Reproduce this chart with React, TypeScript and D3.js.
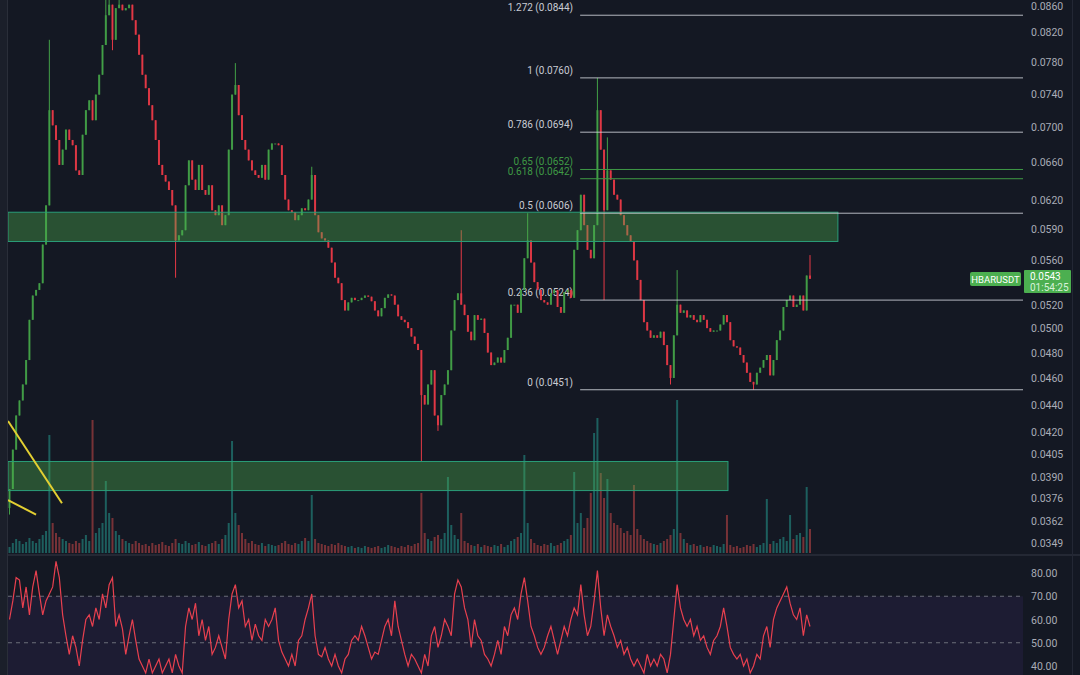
import React from 'react';
import * as d3 from 'd3';

// ---- data ----
const firstOpen = 0.037;
const closes = [
  0.0382, 0.0408, 0.0432, 0.0443, 0.0455, 0.0474, 0.0507, 0.0528, 0.0533, 0.0539,
  0.0575, 0.0614, 0.0720, 0.0702, 0.0685, 0.0657, 0.0674, 0.0697, 0.0685, 0.0679,
  0.0651, 0.0646, 0.0691, 0.0720, 0.0732, 0.0708, 0.0739, 0.0764, 0.0803, 0.0844,
  0.0859, 0.0810, 0.0854, 0.0859, 0.0851, 0.0854, 0.0859, 0.0837, 0.0817, 0.0790,
  0.0764, 0.0747, 0.0726, 0.0708, 0.0685, 0.0657, 0.0646, 0.0639, 0.0630, 0.0614,
  0.0579, 0.0584, 0.0589, 0.0635, 0.0662, 0.0641, 0.0630, 0.0657, 0.0630, 0.0625,
  0.0635, 0.0609, 0.0604, 0.0614, 0.0594, 0.0604, 0.0674, 0.0739, 0.0751, 0.0714,
  0.0685, 0.0674, 0.0662, 0.0651, 0.0646, 0.0643, 0.0657, 0.0641, 0.0674, 0.0681,
  0.0681, 0.0679, 0.0646, 0.0620, 0.0609, 0.0607, 0.0599, 0.0604, 0.0611, 0.0609,
  0.0620, 0.0646, 0.0604, 0.0587, 0.0581, 0.0579, 0.0572, 0.0558, 0.0544, 0.0539,
  0.0524, 0.0515, 0.0522, 0.0526, 0.0524, 0.0524, 0.0526, 0.0528, 0.0527, 0.0523,
  0.0515, 0.0510, 0.0517, 0.0526, 0.0529, 0.0528, 0.0520, 0.0510, 0.0507, 0.0505,
  0.0500, 0.0493, 0.0487, 0.0482, 0.0447, 0.0440, 0.0455, 0.0466, 0.0432, 0.0425,
  0.0447, 0.0455, 0.0466, 0.0498, 0.0524, 0.0530, 0.0520, 0.0511, 0.0497, 0.0490,
  0.0511, 0.0507, 0.0508, 0.0496, 0.0480, 0.0470, 0.0472, 0.0476, 0.0472, 0.0482,
  0.0492, 0.0520, 0.0520, 0.0513, 0.0533, 0.0562, 0.0579, 0.0558, 0.0540, 0.0533,
  0.0524, 0.0522, 0.0520, 0.0530, 0.0533, 0.0518, 0.0513, 0.0531, 0.0533, 0.0526,
  0.0570, 0.0589, 0.0625, 0.0594, 0.0570, 0.0562, 0.0594, 0.0720, 0.0674, 0.0609,
  0.0651, 0.0641, 0.0625, 0.0620, 0.0604, 0.0594, 0.0584, 0.0578, 0.0560, 0.0542,
  0.0524, 0.0505, 0.0498, 0.0492, 0.0494, 0.0492, 0.0497, 0.0486, 0.0470, 0.0460,
  0.0494, 0.0520, 0.0513, 0.0515, 0.0509, 0.0511, 0.0507, 0.0505, 0.0511, 0.0507,
  0.0500, 0.0497, 0.0498, 0.0498, 0.0503, 0.0511, 0.0505, 0.0490, 0.0485, 0.0484,
  0.0478, 0.0472, 0.0464, 0.0457, 0.0455, 0.0464, 0.0468, 0.0474, 0.0478, 0.0462,
  0.0474, 0.0490, 0.0498, 0.0518, 0.0524, 0.0528, 0.0518, 0.0520, 0.0528, 0.0515,
  0.0546, 0.0543,
];
const wickHighs: [number, number][] = [
  [12, 0.081], [29, 0.0875], [30, 0.0875], [33, 0.0872], [68, 0.0779], [91, 0.0655],
  [136, 0.0589], [156, 0.0606], [177, 0.076], [180, 0.0688], [201, 0.0551], [241, 0.0565],
];
const wickLows: [number, number][] = [
  [0, 0.0366], [31, 0.0796], [50, 0.0544], [124, 0.04], [129, 0.0421], [179, 0.0524],
  [199, 0.0455], [224, 0.0451],
];
const volumes = [
  6, 10, 14, 12, 9, 11, 15, 12, 10, 14,
  18, 22, 118, 30, 20, 16, 14, 12, 10, 9,
  12, 10, 14, 18, 12, 133, 20, 25, 30, 72,
  40, 35, 22, 18, 14, 12, 10, 9, 12, 10,
  8, 9, 7, 10, 8, 9, 11, 8, 7, 10,
  14, 10, 9, 12, 10, 8, 9, 11, 8, 7,
  9, 10, 12, 9, 14, 18, 30, 112, 40, 28,
  20, 14, 10, 12, 9, 8, 10, 7, 9, 8,
  7, 8, 10, 12, 9, 8, 10, 9, 12, 15,
  12, 58, 14, 10, 9, 8, 7, 9, 8, 10,
  8, 7, 6, 7, 5, 6, 5, 7, 6, 5,
  6, 7, 5, 6, 8, 7, 6, 5, 7, 6,
  8, 7, 9, 10, 60, 20, 14, 12, 16, 18,
  14, 20, 76, 28, 18, 14, 40, 12, 10, 8,
  7, 9, 6, 8, 7, 6, 8, 7, 9, 6,
  8, 12, 14, 16, 20, 98, 30, 14, 10, 8,
  7, 9, 8, 10, 7, 8, 10, 12, 14, 18,
  81, 30, 40, 25, 35, 60, 120, 135, 80, 55,
  74, 40, 30, 28, 25, 20, 22, 18, 68, 24,
  18, 14, 12, 10, 9, 8, 10, 12, 14, 18,
  24, 153, 20, 14, 10, 8, 9, 7, 8, 6,
  7, 6, 8, 7, 6, 9, 38, 8, 6, 7,
  5, 6, 8, 7, 9, 6, 8, 10, 54, 9,
  12, 10, 14, 16, 12, 38, 14, 18, 20, 16,
  66, 24,
];
const rsiValues = [
  60, 68, 78, 77, 65, 74, 62, 74, 81, 71,
  62, 68, 71, 74, 85, 78, 62, 53, 45, 53,
  48, 40, 51, 60, 62, 57, 65, 60, 71, 65,
  75, 78, 57, 62, 56, 45, 53, 60, 51, 43,
  40, 37, 43, 37, 40, 43, 37, 40, 43, 37,
  45, 40, 37, 57, 65, 60, 67, 53, 60, 51,
  57, 45, 48, 53, 48, 43, 60, 71, 75, 65,
  68, 57, 60, 51, 58, 53, 51, 60, 57, 60,
  65, 51, 46, 43, 40, 45, 40, 51, 53, 60,
  65, 71, 53, 45, 44, 48, 43, 40, 45, 40,
  37, 43, 45, 51, 53, 51, 57, 53, 48, 43,
  46, 45, 51, 57, 60, 53, 68, 57, 51, 45,
  40, 45, 43, 40, 37, 45, 40, 53, 57, 48,
  53, 60, 57, 53, 71, 77, 74, 65, 60, 48,
  60, 53, 51, 45, 43, 40, 45, 51, 45, 57,
  53, 62, 65, 60, 71, 78, 68, 57, 53, 48,
  45, 48, 53, 57, 51, 45, 51, 57, 53, 60,
  65, 62, 75, 62, 53, 57, 68, 81, 65, 53,
  62, 57, 53, 48, 51, 45, 48, 43, 40, 43,
  40, 37, 45, 40, 43, 40, 45, 43, 37, 45,
  60, 75, 65, 60, 57, 60, 53, 57, 51, 53,
  48, 45, 51, 53, 57, 65, 57, 48, 45, 43,
  45, 40, 43, 37, 40, 45, 43, 53, 57, 48,
  60, 65, 68, 71, 74, 67, 62, 60, 65, 53,
  62, 57,
];
const priceTicks = [0.086, 0.082, 0.078, 0.074, 0.07, 0.066, 0.062, 0.059, 0.056, 0.052, 0.05, 0.048, 0.046, 0.044, 0.042, 0.0405, 0.039, 0.0376, 0.0362, 0.0349];
const rsiTicks = [80, 70, 60, 50, 40];
const fibRatios = ['1.272', '1', '0.786', '0.65', '0.618', '0.5', '0.236', '0'];
const fibPrices = [0.0844, 0.076, 0.0694, 0.0652, 0.0642, 0.0606, 0.0524, 0.0451];
const fibGreen = [false, false, false, true, true, false, false, false];
const fibStartIndex = 171.8;
const zoneFrom = [-0.45, -0.45];
const zoneTo = [249.4, 216.3];
const zoneTop = [0.0607, 0.04];
const zoneBottom = [0.0578, 0.0381];
const trendFrom: [number, number][] = [[-0.45, 0.0428], [-0.45, 0.0375]];
const trendTo: [number, number][] = [[15.8, 0.0373], [8.0, 0.0366]];
const symbol = 'HBARUSDT';
const lastPriceLabel = '0.0543';
const countdown = '01:54:25';

const W = 1080;
const H = 675;
const BG = '#141823';
const UP = '#43a047';
const DOWN = '#e53946';
const FONT = 'Roboto, "Noto Sans", sans-serif';

export default function App() {
  const n = closes.length;
  const x = d3.scaleLinear().domain([0, n - 1]).range([9.5, 810]);
  const y = d3.scaleLog().domain([0.0349, 0.086]).range([543, 4]);
  const yVol = d3.scaleLinear().domain([0, 150]).range([553, 403]);
  const yRsi = d3.scaleLinear().domain([40, 80]).range([666, 573]);

  const hiMap = new Map(wickHighs);
  const loMap = new Map(wickLows);
  const candles = closes.map((c, i) => {
    const o = i === 0 ? firstOpen : closes[i - 1];
    const hi = Math.max(o, c, hiMap.get(i) ?? 0);
    const lo = Math.min(o, c, loMap.get(i) ?? 1);
    return { i, o, c, hi, lo, up: c >= o };
  });

  const rsiLine = d3.line<number>().x((_, i) => x(i)).y((d) => yRsi(d))(rsiValues) || '';
  const plotRight = 1023;

  return (
    <svg width={W} height={H} style={{ position: 'fixed', left: 0, top: 0, background: BG }}>
      <defs>
        <clipPath id="pricePane">
          <rect x={8} y={0} width={plotRight - 8} height={554} />
        </clipPath>
        <clipPath id="rsiPane">
          <rect x={8} y={556} width={plotRight - 8} height={H - 556} />
        </clipPath>
      </defs>
      <rect x={0} y={0} width={W} height={H} fill={BG} />
      <rect x={0} y={0} width={7} height={H} fill="#1b1f2a" />
      <line x1={7.5} x2={7.5} y1={0} y2={H} stroke="#2a2e39" />

      {/* fib labels (under candles) */}
      {fibRatios.map((r, k) => (
        <text key={'fl' + k} x={573} y={y(fibPrices[k]) - 4} textAnchor="end" fontSize={10} fontFamily={FONT}
          fill={fibGreen[k] ? '#3f9a45' : '#c8cbd3'}>
          {`${r} (${fibPrices[k].toFixed(4)})`}
        </text>
      ))}

      <g clipPath="url(#pricePane)">
        {/* volume */}
        {candles.map((d) => (
          <rect key={'v' + d.i} x={x(d.i) - 1} width={2} y={yVol(volumes[d.i])} height={553 - yVol(volumes[d.i])}
            fill={d.up ? 'rgba(38,166,154,0.5)' : 'rgba(239,83,80,0.45)'} />
        ))}
        {/* candles */}
        {candles.map((d) => (
          <g key={'c' + d.i}>
            <line x1={x(d.i)} x2={x(d.i)} y1={y(d.hi)} y2={y(d.lo)} stroke={d.up ? UP : DOWN} strokeWidth={1} />
            <rect x={x(d.i) - 1} width={2} y={y(Math.max(d.o, d.c))}
              height={Math.max(1, Math.abs(y(d.o) - y(d.c)))} fill={d.up ? UP : DOWN} opacity={0.9} />
          </g>
        ))}
        {/* zones */}
        {zoneTop.map((t, k) => (
          <rect key={'z' + k} x={x(zoneFrom[k])} width={x(zoneTo[k]) - x(zoneFrom[k])} y={y(t)}
            height={y(zoneBottom[k]) - y(t)} fill="rgba(76,175,80,0.38)" stroke="#2a9d78" strokeWidth={1} />
        ))}
        {/* fib lines */}
        {fibPrices.map((p, k) => (
          <line key={'f' + k} x1={x(fibStartIndex)} x2={plotRight} y1={y(p)} y2={y(p)}
            stroke={fibGreen[k] ? '#3f9a45' : '#d1d4dc'} strokeWidth={1} opacity={fibGreen[k] ? 1 : 0.85} />
        ))}
        {/* trend lines */}
        {trendFrom.map((f, k) => (
          <line key={'t' + k} x1={x(f[0])} y1={y(f[1])} x2={x(trendTo[k][0])} y2={y(trendTo[k][1])}
            stroke="#e3cf32" strokeWidth={2} />
        ))}
      </g>

      {/* symbol tag */}
      <rect x={970} y={272} width={51} height={14} rx={2} fill="#4caf50" />
      <text x={995.5} y={282.5} textAnchor="middle" fontSize={9.5} fontFamily={FONT} fill="#ffffff">{symbol}</text>

      {/* pane separator */}
      <rect x={8} y={554} width={W - 8} height={2} fill="#242834" />

      {/* RSI pane */}
      <rect x={8} y={yRsi(70)} width={plotRight - 8} height={H - yRsi(70)} fill="#1d1c33" />
      <line x1={8} x2={plotRight} y1={yRsi(70)} y2={yRsi(70)} stroke="#6b6e7a" strokeDasharray="4 4" />
      <line x1={8} x2={plotRight} y1={yRsi(50)} y2={yRsi(50)} stroke="#6b6e7a" strokeDasharray="4 4" />
      <g clipPath="url(#rsiPane)">
        <path d={rsiLine} fill="none" stroke="#e8404f" strokeWidth={1.2} />
      </g>

      {/* right axis */}
      <line x1={1072.5} x2={1072.5} y1={0} y2={H} stroke="#232734" />
      {priceTicks.map((t) => (
        <text key={'pt' + t} x={1031} y={Math.max(10, y(t) + 4)} fontSize={10.5} fontFamily={FONT} fill="#a9acb6">{t.toFixed(4)}</text>
      ))}
      {rsiTicks.map((t) => (
        <text key={'rt' + t} x={1031} y={yRsi(t) + 4} fontSize={10.5} fontFamily={FONT} fill="#a9acb6">{t.toFixed(2)}</text>
      ))}
      <rect x={1024} y={270} width={47} height={23} rx={1} fill="#4caf50" />
      <text x={1030} y={279.5} fontSize={10} fontFamily={FONT} fill="#ffffff">{lastPriceLabel}</text>
      <text x={1030} y={291} fontSize={10} fontFamily={FONT} fill="#d9f2da">{countdown}</text>
    </svg>
  );
}
